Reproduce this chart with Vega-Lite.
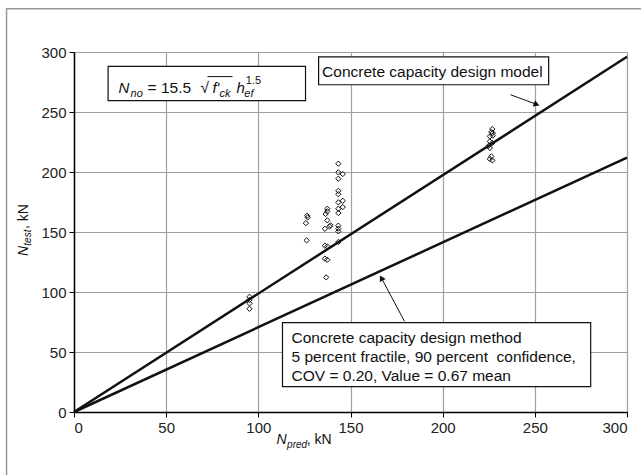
{
  "$schema": "https://vega.github.io/schema/vega-lite/v6.json",
  "autosize": "none",
  "width": 553,
  "height": 360,
  "padding": {"left": 74, "top": 52, "right": 14, "bottom": 63},
  "background": "white",
  "view": {"stroke": null},
  "config": {
    "font": "Liberation Sans",
    "axis": {
      "labelFont": "Liberation Sans", "labelFontSize": 15, "labelColor": "#222",
      "grid": true, "gridColor": "#a0a0a0", "gridWidth": 1.2,
      "domainColor": "#000", "domainWidth": 1.5,
      "tickColor": "#000", "tickSize": 5, "tickWidth": 1,
      "title": null, "labelPadding": 3
    },
    "text": {"font": "Liberation Sans", "color": "#111"}
  },
  "layer": [
    {
      "data": {"values": [
        {"series": "model", "x": 0, "y": 0}, {"series": "model", "x": 300, "y": 296},
        {"series": "method", "x": 0, "y": 0}, {"series": "method", "x": 300, "y": 212}
      ]},
      "mark": {"type": "line", "color": "#111", "strokeWidth": 2.5},
      "encoding": {
        "x": {"field": "x", "type": "quantitative", "scale": {"domain": [0, 300], "nice": false},
              "axis": {"values": [0, 50, 100, 150, 200, 250, 300]}},
        "y": {"field": "y", "type": "quantitative", "scale": {"domain": [0, 300], "nice": false},
              "axis": {"values": [0, 50, 100, 150, 200, 250, 300]}},
        "detail": {"field": "series"}
      }
    },
    {
      "data": {"values": [{"x": -36.6, "x2": 330, "y": 336, "y2": -70}]},
      "mark": {"type": "rect", "fill": null, "stroke": "#999", "strokeWidth": 1.5},
      "encoding": {
        "x": {"field": "x", "type": "quantitative", "scale": {"domain": [0, 300], "nice": false}},
        "x2": {"field": "x2"},
        "y": {"field": "y", "type": "quantitative", "scale": {"domain": [0, 300], "nice": false}},
        "y2": {"field": "y2"}
      }
    },
    {
      "data": {"values": [
        {"x": 95.2, "y": 96}, {"x": 95.2, "y": 93.5}, {"x": 95.2, "y": 90.5}, {"x": 95.2, "y": 86},
        {"x": 126.5, "y": 163.6}, {"x": 126.8, "y": 162.2}, {"x": 125.8, "y": 157.4}, {"x": 126.2, "y": 143},
        {"x": 137.4, "y": 169.4}, {"x": 137.4, "y": 167.2}, {"x": 136.5, "y": 165}, {"x": 137.4, "y": 159.7},
        {"x": 139.2, "y": 155.5}, {"x": 138.6, "y": 154.7}, {"x": 136.1, "y": 152.7}, {"x": 136.1, "y": 138.6},
        {"x": 137.4, "y": 138}, {"x": 136.1, "y": 127.8}, {"x": 137.4, "y": 126.9}, {"x": 136.8, "y": 112.2},
        {"x": 143.4, "y": 206.9}, {"x": 143.4, "y": 199.7}, {"x": 145.8, "y": 198.3}, {"x": 143.4, "y": 194.4},
        {"x": 143.4, "y": 184.3}, {"x": 143.4, "y": 181.5}, {"x": 143.4, "y": 174.7}, {"x": 145.8, "y": 176},
        {"x": 145.8, "y": 170.8}, {"x": 143.4, "y": 169.4}, {"x": 143.4, "y": 165.8}, {"x": 143.4, "y": 155.3},
        {"x": 143.4, "y": 152.8}, {"x": 143.4, "y": 150.5}, {"x": 143.4, "y": 141.7},
        {"x": 226.9, "y": 235.8}, {"x": 226.4, "y": 233.3}, {"x": 227.2, "y": 232.5}, {"x": 225.6, "y": 229.7},
        {"x": 227.2, "y": 230.3}, {"x": 225.6, "y": 225.5}, {"x": 226.9, "y": 224.2}, {"x": 225, "y": 221.9},
        {"x": 225.6, "y": 220}, {"x": 226.4, "y": 213}, {"x": 225.6, "y": 210.8}, {"x": 226.9, "y": 209.7}
      ]},
      "mark": {"type": "point", "shape": "diamond", "filled": false, "stroke": "#111", "strokeWidth": 1, "size": 28, "opacity": 1},
      "encoding": {
        "x": {"field": "x", "type": "quantitative", "scale": {"domain": [0, 300], "nice": false}},
        "y": {"field": "y", "type": "quantitative", "scale": {"domain": [0, 300], "nice": false}}
      }
    },
    {
      "data": {"values": [
        {"box": "formula", "x": 18.5, "x2": 125.6, "y": 288, "y2": 259.4},
        {"box": "model", "x": 132.7, "x2": 257.5, "y": 296, "y2": 272.7},
        {"box": "method", "x": 113.1, "x2": 280.3, "y": 74.4, "y2": 21.1}
      ]},
      "mark": {"type": "rect", "fill": "white", "stroke": "#111", "strokeWidth": 1.2},
      "encoding": {
        "x": {"field": "x", "type": "quantitative", "scale": {"domain": [0, 300], "nice": false}},
        "x2": {"field": "x2"},
        "y": {"field": "y", "type": "quantitative", "scale": {"domain": [0, 300], "nice": false}},
        "y2": {"field": "y2"}
      }
    },
    {
      "data": {"values": [
        {"x": 236.8, "y": 264.4, "x2": 250.5, "y2": 256.6},
        {"x": 179.3, "y": 75.5, "x2": 167.0, "y2": 111.0},
        {"x": 72.4, "y": 279.5, "x2": 86.0, "y2": 279.5}
      ]},
      "mark": {"type": "rule", "color": "#111", "strokeWidth": 1},
      "encoding": {
        "x": {"field": "x", "type": "quantitative", "scale": {"domain": [0, 300], "nice": false}},
        "x2": {"field": "x2"},
        "y": {"field": "y", "type": "quantitative", "scale": {"domain": [0, 300], "nice": false}},
        "y2": {"field": "y2"}
      }
    },
    {
      "data": {"values": [{"x": 250.5, "y": 256.6}]},
      "mark": {"type": "point", "shape": "triangle", "filled": true, "color": "#111", "opacity": 1, "size": 45, "angle": 110},
      "encoding": {
        "x": {"field": "x", "type": "quantitative", "scale": {"domain": [0, 300], "nice": false}},
        "y": {"field": "y", "type": "quantitative", "scale": {"domain": [0, 300], "nice": false}}
      }
    },
    {
      "data": {"values": [{"x": 167.0, "y": 111.0}]},
      "mark": {"type": "point", "shape": "triangle", "filled": true, "color": "#111", "opacity": 1, "size": 45, "angle": 332},
      "encoding": {
        "x": {"field": "x", "type": "quantitative", "scale": {"domain": [0, 300], "nice": false}},
        "y": {"field": "y", "type": "quantitative", "scale": {"domain": [0, 300], "nice": false}}
      }
    },
    {
      "data": {"values": [
        {"x": 39.9, "y": 266, "t": "= 15.5"},
        {"x": 68.6, "y": 266, "t": "√"},
        {"x": 134.6, "y": 279.4, "t": "Concrete capacity design model"},
        {"x": 118, "y": 57.75, "t": "Concrete capacity design method"},
        {"x": 118, "y": 41.9, "t": "5 percent fractile, 90 percent\u00a0 confidence,"},
        {"x": 118, "y": 26.1, "t": "COV = 0.20, Value = 0.67 mean"}
      ]},
      "mark": {"type": "text", "fontSize": 15.5, "align": "left", "baseline": "alphabetic"},
      "encoding": {
        "x": {"field": "x", "type": "quantitative", "scale": {"domain": [0, 300], "nice": false}},
        "y": {"field": "y", "type": "quantitative", "scale": {"domain": [0, 300], "nice": false}},
        "text": {"field": "t"}
      }
    },
    {
      "data": {"values": [
        {"x": 24.1, "y": 266, "t": "N"},
        {"x": 75.1, "y": 266, "t": "f'"},
        {"x": 88.2, "y": 266, "t": "h"}
      ]},
      "mark": {"type": "text", "fontSize": 15, "fontStyle": "italic", "align": "left", "baseline": "alphabetic"},
      "encoding": {
        "x": {"field": "x", "type": "quantitative", "scale": {"domain": [0, 300], "nice": false}},
        "y": {"field": "y", "type": "quantitative", "scale": {"domain": [0, 300], "nice": false}},
        "text": {"field": "t"}
      }
    },
    {
      "data": {"values": [
        {"x": 30.7, "y": 262.8, "t": "no"},
        {"x": 79, "y": 262.8, "t": "ck"},
        {"x": 92.4, "y": 262.8, "t": "ef"}
      ]},
      "mark": {"type": "text", "fontSize": 11, "fontStyle": "italic", "align": "left", "baseline": "alphabetic"},
      "encoding": {
        "x": {"field": "x", "type": "quantitative", "scale": {"domain": [0, 300], "nice": false}},
        "y": {"field": "y", "type": "quantitative", "scale": {"domain": [0, 300], "nice": false}},
        "text": {"field": "t"}
      }
    },
    {
      "data": {"values": [{"x": 93.2, "y": 273.6, "t": "1.5"}]},
      "mark": {"type": "text", "fontSize": 11, "align": "left", "baseline": "alphabetic"},
      "encoding": {
        "x": {"field": "x", "type": "quantitative", "scale": {"domain": [0, 300], "nice": false}},
        "y": {"field": "y", "type": "quantitative", "scale": {"domain": [0, 300], "nice": false}},
        "text": {"field": "t"}
      }
    },
    {
      "data": {"values": [{"x": 109.9, "y": -27, "t": "N"}]},
      "mark": {"type": "text", "fontSize": 14, "fontStyle": "italic", "align": "left", "baseline": "alphabetic"},
      "encoding": {
        "x": {"field": "x", "type": "quantitative", "scale": {"domain": [0, 300], "nice": false}},
        "y": {"field": "y", "type": "quantitative", "scale": {"domain": [0, 300], "nice": false}},
        "text": {"field": "t"}
      }
    },
    {
      "data": {"values": [{"x": 115.6, "y": -29.6, "t": "pred"}]},
      "mark": {"type": "text", "fontSize": 10, "fontStyle": "italic", "align": "left", "baseline": "alphabetic"},
      "encoding": {
        "x": {"field": "x", "type": "quantitative", "scale": {"domain": [0, 300], "nice": false}},
        "y": {"field": "y", "type": "quantitative", "scale": {"domain": [0, 300], "nice": false}},
        "text": {"field": "t"}
      }
    },
    {
      "data": {"values": [{"x": 126.3, "y": -27, "t": ", kN"}]},
      "mark": {"type": "text", "fontSize": 14, "align": "left", "baseline": "alphabetic"},
      "encoding": {
        "x": {"field": "x", "type": "quantitative", "scale": {"domain": [0, 300], "nice": false}},
        "y": {"field": "y", "type": "quantitative", "scale": {"domain": [0, 300], "nice": false}},
        "text": {"field": "t"}
      }
    },
    {
      "data": {"values": [{"x": -25.0, "y": 130, "t": "N"}]},
      "mark": {"type": "text", "fontSize": 14, "fontStyle": "italic", "align": "left", "baseline": "alphabetic", "angle": 270},
      "encoding": {
        "x": {"field": "x", "type": "quantitative", "scale": {"domain": [0, 300], "nice": false}},
        "y": {"field": "y", "type": "quantitative", "scale": {"domain": [0, 300], "nice": false}},
        "text": {"field": "t"}
      }
    },
    {
      "data": {"values": [{"x": -23.4, "y": 138.6, "t": "test"}]},
      "mark": {"type": "text", "fontSize": 10, "fontStyle": "italic", "align": "left", "baseline": "alphabetic", "angle": 270},
      "encoding": {
        "x": {"field": "x", "type": "quantitative", "scale": {"domain": [0, 300], "nice": false}},
        "y": {"field": "y", "type": "quantitative", "scale": {"domain": [0, 300], "nice": false}},
        "text": {"field": "t"}
      }
    },
    {
      "data": {"values": [{"x": -25.0, "y": 152.5, "t": " , kN"}]},
      "mark": {"type": "text", "fontSize": 14, "align": "left", "baseline": "alphabetic", "angle": 270},
      "encoding": {
        "x": {"field": "x", "type": "quantitative", "scale": {"domain": [0, 300], "nice": false}},
        "y": {"field": "y", "type": "quantitative", "scale": {"domain": [0, 300], "nice": false}},
        "text": {"field": "t"}
      }
    }
  ]
}
